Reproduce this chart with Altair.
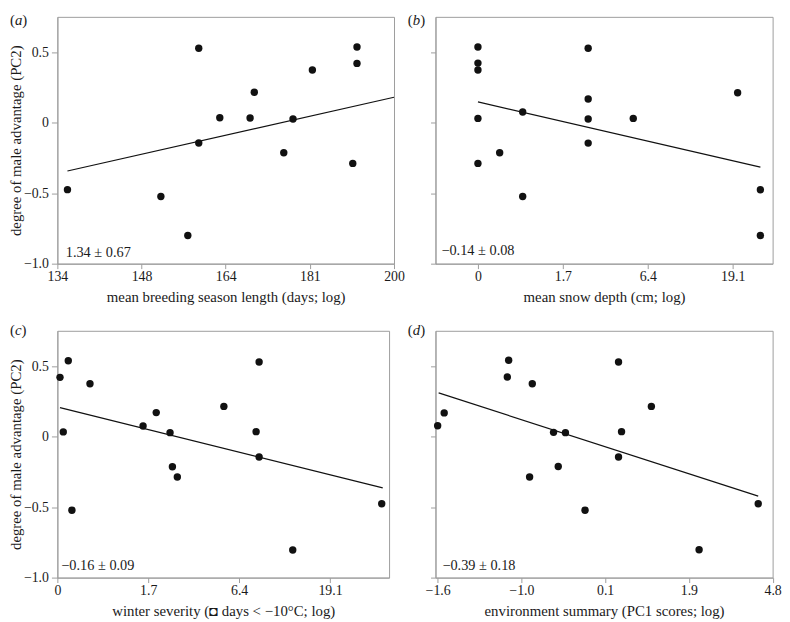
import altair as alt
import pandas as pd

FONT = "Liberation Serif"
TXT = "#1a1a1a"
GREY = "#9c9c9c"

# shared y axis
Y_DOMAIN = [-1.0, 0.75]
Y_TICKS = [-1.0, -0.5, 0.0, 0.5]
Y_LABELS = ["\u22121.0", "\u22120.5", "0", "0.5"]
Y_TITLE = "degree of male advantage (PC2)"

# (a) breeding season length, plotted on log scale
A_X = [4.912, 5.023, 5.055, 5.068, 5.068, 5.093, 5.129, 5.134, 5.169, 5.180, 5.203, 5.251, 5.256, 5.256]
A_Y = [-0.475, -0.524, -0.800, 0.527, -0.144, 0.035, 0.033, 0.215, -0.214, 0.026, 0.373, -0.289, 0.536, 0.420]
A_LINE_X = [4.912, 5.3]
A_LINE_Y = [-0.343, 0.180]
A_TICKS = [4.9, 5.0, 5.1, 5.2, 5.3]
A_LABELS = ["134", "148", "164", "181", "200"]
A_DOMAIN = [4.9, 5.3]
A_TITLE = "mean breeding season length (days; log)"
A_NOTE = "1.34 \u00b1 0.67"

# (b) snow depth
B_X = [0, 0, 0, 0, 0, 0.256, 0.527, 0.527, 1.298, 1.298, 1.298, 1.298, 1.829, 3.058, 3.326, 3.326]
B_Y = [0.536, 0.422, 0.373, 0.030, -0.289, -0.214, 0.075, -0.524, 0.527, 0.168, 0.026, -0.145, 0.030, 0.212, -0.476, -0.800]
B_LINE_X = [0.0, 3.326]
B_LINE_Y = [0.147, -0.315]
B_TICKS = [0, 1, 2, 3]
B_LABELS = ["0", "1.7", "6.4", "19.1"]
B_DOMAIN = [-0.5, 3.47]
B_TITLE = "mean snow depth (cm; log)"
B_NOTE = "\u22120.14 \u00b1 0.08"

# (c) winter severity
C_X = [0.029, 0.12, 0.065, 0.16, 0.359, 0.943, 1.088, 1.240, 1.266, 1.320, 1.832, 2.187, 2.220, 2.220, 2.590, 3.569]
C_Y = [0.42, 0.538, 0.033, -0.522, 0.375, 0.075, 0.170, 0.028, -0.214, -0.287, 0.214, 0.035, 0.529, -0.145, -0.804, -0.476]
C_LINE_X = [0.029, 3.58]
C_LINE_Y = [0.205, -0.364]
C_TICKS = [0, 1, 2, 3]
C_LABELS = ["0", "1.7", "6.4", "19.1"]
C_DOMAIN = [0, 3.65]
C_TITLE = "winter severity (\u25d8 days < \u221210\u00b0C; log)"
C_NOTE = "\u22120.16 \u00b1 0.09"

# (d) environment summary
D_X = [0, 0.039, 0.416, 0.424, 0.549, 0.565, 0.692, 0.720, 0.763, 0.880, 1.080, 1.080, 1.098, 1.276, 1.561, 1.914]
D_Y = [0.077, 0.168, 0.422, 0.541, -0.287, 0.375, 0.030, -0.212, 0.028, -0.522, 0.529, -0.145, 0.035, 0.214, -0.802, -0.476]
D_LINE_X = [0.006, 1.914]
D_LINE_Y = [0.31, -0.422]
D_TICKS = [0, 0.5, 1.0, 1.5, 2.0]
D_LABELS = ["\u22121.6", "\u22121.0", "0.1", "1.9", "4.8"]
D_DOMAIN = [-0.013, 2.0]
D_TITLE = "environment summary (PC1 scores; log)"
D_NOTE = "\u22120.39 \u00b1 0.18"

H = 250


def label_expr(vals, labels):
    expr = "''"
    for v, l in reversed(list(zip(vals, labels))):
        expr = f"abs(datum.value - ({v})) < 1e-6 ? '{l}' : {expr}"
    return expr


def text_layer(txt, x, y, size, style="normal", baseline="alphabetic"):
    return alt.Chart(pd.DataFrame({"k": [0]})).mark_text(
        text=txt, font=FONT, fontSize=size, fontStyle=style, color=TXT,
        align="left", baseline=baseline
    ).encode(x=alt.value(x), y=alt.value(y))


def panel(xs, ys, lx, ly, dom, ticks, labels, title, note, letter, w,
          left, letter_x, letter_y, note_x, note_y):
    xscale = alt.Scale(domain=dom, nice=False, zero=False)
    yscale = alt.Scale(domain=Y_DOMAIN, nice=False, zero=False)
    xaxis = alt.Axis(values=ticks, labelExpr=label_expr(ticks, labels), title=title,
                     labelFlush=False, labelOverlap=False, tickSize=5, labelPadding=1,
                     titlePadding=6)
    if left:
        yaxis = alt.Axis(values=Y_TICKS, labelExpr=label_expr(Y_TICKS, Y_LABELS),
                         title=Y_TITLE, tickSize=6, labelPadding=3, labelOverlap=False,
                         labelFlush=False, titleX=-34, titleY=H / 2)
    else:
        yaxis = alt.Axis(values=Y_TICKS, labels=False, title=None, tickSize=5)
    pts = alt.Chart(pd.DataFrame({"x": xs, "y": ys})).mark_circle(
        size=56, color="#111111", opacity=1
    ).encode(x=alt.X("x:Q", scale=xscale, axis=xaxis),
             y=alt.Y("y:Q", scale=yscale, axis=yaxis))
    line = alt.Chart(pd.DataFrame({"x": lx, "y": ly})).mark_line(
        color="#111111", strokeWidth=1.2
    ).encode(x=alt.X("x:Q", scale=xscale), y=alt.Y("y:Q", scale=yscale))
    widths = {"a": 7.5, "b": 7.5, "c": 6.7, "d": 7.5}
    lab = [
        text_layer("(", letter_x, letter_y, 15, baseline="top"),
        text_layer(letter, letter_x + 5, letter_y, 15, style="italic", baseline="top"),
        text_layer(")", letter_x + 5 + widths[letter], letter_y, 15, baseline="top"),
    ]
    nt = text_layer(note, note_x, note_y, 14.5)
    return alt.layer(pts, line, nt, *lab).properties(width=w, height=H)


pa = panel(A_X, A_Y, A_LINE_X, A_LINE_Y, A_DOMAIN, A_TICKS, A_LABELS, A_TITLE, A_NOTE,
           "a", 341, True, -48, -4, 8.5, 243)
pb = panel(B_X, B_Y, B_LINE_X, B_LINE_Y, B_DOMAIN, B_TICKS, B_LABELS, B_TITLE, B_NOTE,
           "b", 341.5, False, -28, -4, 6, 241)
pc = panel(C_X, C_Y, C_LINE_X, C_LINE_Y, C_DOMAIN, C_TICKS, C_LABELS, C_TITLE, C_NOTE,
           "c", 336, True, -48, -8, 4, 242.5)
pd_ = panel(D_X, D_Y, D_LINE_X, D_LINE_Y, D_DOMAIN, D_TICKS, D_LABELS, D_TITLE, D_NOTE,
            "d", 341.5, False, -28, -8, 7, 242)

chart = alt.concat(pa, pb, pc, pd_, columns=2, spacing={"row": 68, "column": 42},
                   bounds="flush").properties(padding=0).configure_axis(
    labelFont=FONT, titleFont=FONT, labelFontSize=14, titleFontSize=15,
    titleFontWeight="normal", labelColor=TXT, titleColor=TXT,
    domainColor=GREY, tickColor=GREY, grid=False, domainWidth=1, tickWidth=1
).configure_view(stroke=GREY, strokeWidth=1)

chart.save("out.html", embed_options={"renderer": "svg", "actions": False})
